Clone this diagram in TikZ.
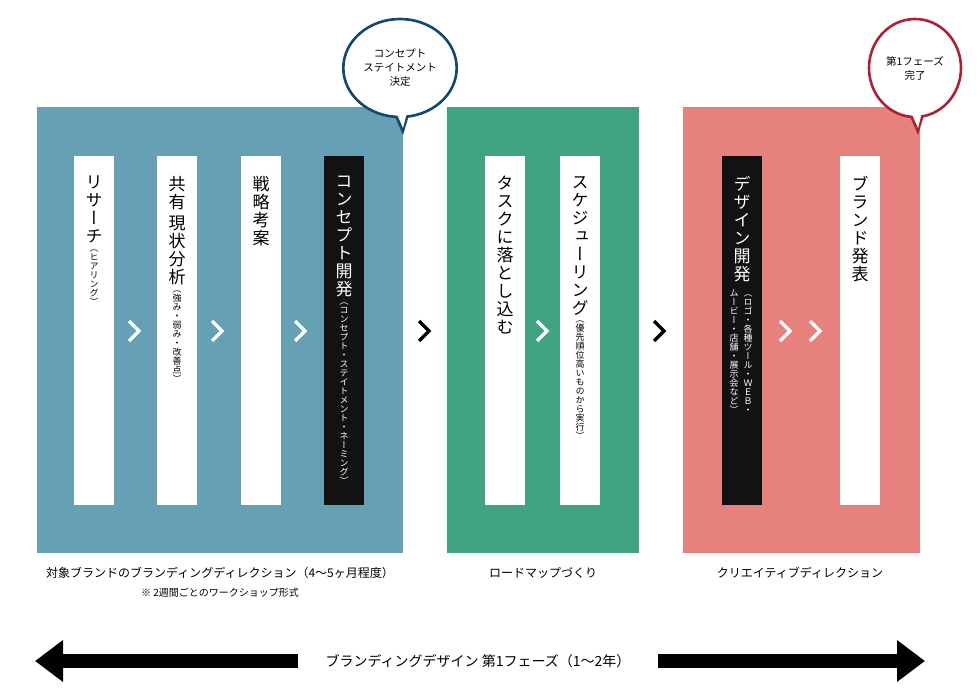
\documentclass[tikz,border=0pt]{standalone}
\usepackage{fontspec}
\setmainfont{Noto Sans CJK JP}
\newfontfamily\vfont[RawFeature=+vert]{Noto Sans CJK JP}
\usetikzlibrary{positioning,arrows.meta,shapes.geometric}

\definecolor{bluepanel}{HTML}{65A0B4}
\definecolor{greenpanel}{HTML}{3FA384}
\definecolor{redpanel}{HTML}{E6817E}
\definecolor{bluering}{HTML}{12486E}
\definecolor{redring}{HTML}{B02035}

\makeatletter
\newcommand{\vtxt}[2][1.06]{\vtop{\baselineskip=#1em\lineskiplimit=-20pt\@tfor\ch:=#2\do{\hbox to 1em{\hss\ch\hss}}}}
\makeatother
% one vertical column: size, text
\newcommand{\vcol}[2]{\hbox to 22pt{\hss\fontsize{#1}{#1}\selectfont\vtxt{#2}\hss}}
\newcommand{\vnote}[1]{\hbox to 16pt{\hss\fontsize{9}{9}\selectfont\vtxt[1.0]{#1}\hss}}
% main text plus small note underneath
\newcommand{\vpair}[2]{\vtop{\offinterlineskip\vcol{17}{#1}\vskip6pt\hbox to 22pt{\hss\vnote{#2}\hss}}}
\newcommand{\chev}[2]{\draw[#2, line width=3.4pt] (#1-6,321)--(#1+4,331)--(#1-6,341);}

\begin{document}
\begin{tikzpicture}[x=1pt, y=-1pt,
    vlabel/.style={anchor=north, inner sep=0pt, font=\vfont},
    small/.style={font=\fontsize{10.5}{14}\selectfont},
    caption/.style={font=\fontsize{12}{14}\selectfont},
    bubble/.style={ellipse, line width=2.6pt, fill=white, draw=#1, minimum width=92pt, minimum height=98pt}]
    \useasboundingbox (0,0) rectangle (980,700);

    % Panels
    \fill[bluepanel] (37,107) rectangle (403,553);
    \fill[greenpanel] (447,107) rectangle (639,553);
    \fill[redpanel] (683,107) rectangle (920,553);

    % Bars
    \foreach \x in {74,157,241,485,560,840} \fill[white] (\x,156) rectangle (\x+40,505);
    \foreach \x in {324,722} \fill[black!93] (\x,156) rectangle (\x+40,505);

    % Bar texts
    \node[vlabel] (research) at (94,176) {\vpair{リサーチ}{（ヒアリング）}};
    \node[vlabel] (share) at (177,176) {\vtop{\offinterlineskip\vcol{17}{共有}\vskip6pt\vcol{17}{現状分析}\vskip6pt\hbox to 22pt{\hss\vnote{（強み・弱み・改善点）}\hss}}};
    \node[vlabel] (strategy) at (261,176) {\vcol{17}{戦略考案}};
    \node[vlabel, white] (concept) at (344,176) {\vpair{コンセプト開発}{（コンセプト・ステイトメント・ネーミング）}};
    \node[vlabel] (task) at (505,176) {\vcol{17}{タスクに落とし込む}};
    \node[vlabel] (schedule) at (580,176) {\vpair{スケジューリング}{（優先順位高いものから実行）}};
    \node[vlabel, white] (design) at (742,176) {\vcol{17}{デザイン開発}};
    \node[vlabel, white] (designsub) at (741,290)
        {\hbox{\vnote{ムービー・店舗・展示会など）}\hskip-2pt\vnote{（ロゴ・各種ツール・ＷＥＢ・}}};
    \node[vlabel] (launch) at (860,176) {\vcol{17}{ブランド発表}};

    % Chevrons
    \chev{135}{white}
    \chev{218}{white}
    \chev{301}{white}
    \chev{425}{black}
    \chev{543}{white}
    \chev{660}{black}
    \chev{786}{white}
    \chev{816}{white}

    % Bubbles
    \fill[bluering] (393,112) -- (403,135) -- (410,112) -- cycle;
    \node[bubble=bluering, small, align=center] (conceptdone) at (400,68) {コンセプト\\ステイトメント\\決定};
    \fill[redring] (908,112) -- (918,135) -- (925,112) -- cycle;
    \node[bubble=redring, small, align=center] (phasedone) at (915,68) {第1フェーズ\\完了};
    \fill[white] (396,112) -- (403,128) -- (407,112) -- cycle;
    \fill[white] (911,112) -- (918,128) -- (922,112) -- cycle;

    % Captions
    \node[caption] (cap1) at (220,573) {対象ブランドのブランディングディレクション（4〜5ヶ月程度）};
    \node[small, font=\fontsize{10}{12}\selectfont, below=2pt of cap1] (workshop) {※ 2週間ごとのワークショップ形式};
    \node[caption] (cap2) at (543,573) {ロードマップづくり};
    \node[caption] (cap3) at (800,573) {クリエイティブディレクション};

    % Bottom arrow
    \node[caption, font=\fontsize{14}{16}\selectfont] (phase) at (478,661) {ブランディングデザイン 第1フェーズ（1〜2年）};
    \coordinate (leftend) at (35,661);
    \coordinate (rightend) at (925,661);
    \draw[line width=14pt, -{Triangle[length=28pt, width=40pt]}] (phase.west) ++(-24,0) -- (leftend);
    \draw[line width=14pt, -{Triangle[length=28pt, width=40pt]}] (phase.east) ++(24,0) -- (rightend);
\end{tikzpicture}
\end{document}
